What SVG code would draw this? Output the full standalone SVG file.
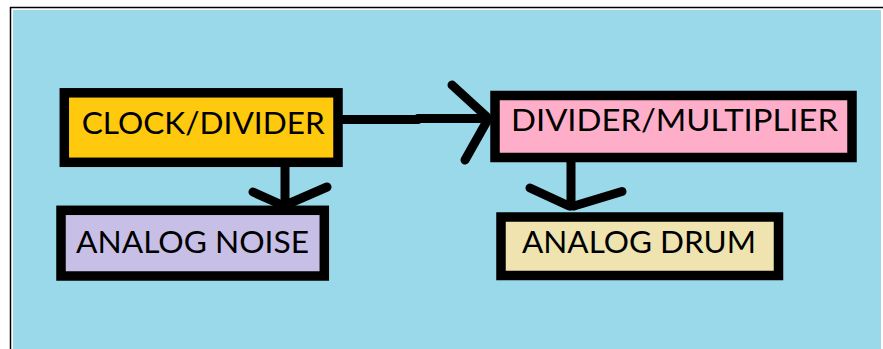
<svg xmlns="http://www.w3.org/2000/svg" width="883" height="349" viewBox="0 0 883 349">
  <style>
    .box { stroke: #000; stroke-width: 9.5; }
    .lbl { font-family: Lato, "Open Sans", "Liberation Sans", sans-serif; font-size: 31px; fill: #000; }
    .con { stroke: #000; stroke-width: 9; fill: none; stroke-linecap: round; stroke-linejoin: round; }
  </style>
  <rect x="0" y="0" width="883" height="349" fill="#ffffff"/>
  <rect x="10.5" y="7.5" width="880" height="350" fill="none" stroke="#000" stroke-width="1.5"/>
  <rect x="13" y="10" width="868" height="339" fill="#99D9EA"/>

  <g id="connectors">
    <path class="con" d="M343 119.5 L418 119.5 L418 118.5 L487 118.5"/>
    <path class="con" d="M452 85 L487 117 M465 160 L487 121"/>
    <path class="con" d="M285 166 L285 205"/>
    <path class="con" d="M253 192 L282 205 M327 187 L288 204"/>
    <path class="con" d="M571 162 L571 206"/>
    <path class="con" d="M530 188 L569 206 M622 191.5 L574 206"/>
  </g>

  <g id="clock-divider">
    <rect class="box" x="64.3" y="92.8" width="273.7" height="69.5" fill="#FFC90E"/>
    <text class="lbl" x="81.7" y="134.3" textLength="243" lengthAdjust="spacingAndGlyphs">CLOCK/DIVIDER</text>
  </g>
  <g id="analog-noise">
    <rect class="box" x="61" y="210.3" width="263.3" height="65.7" fill="#C8BFE7"/>
    <text class="lbl" x="76" y="252.7" textLength="233" lengthAdjust="spacingAndGlyphs">ANALOG NOISE</text>
  </g>
  <g id="divider-multiplier">
    <rect class="box" x="495" y="95.5" width="357" height="62" fill="#FFAEC9"/>
    <text class="lbl" x="511" y="131" textLength="327" lengthAdjust="spacingAndGlyphs">DIVIDER/MULTIPLIER</text>
  </g>
  <g id="analog-drum">
    <rect class="box" x="501" y="217" width="277.5" height="58.5" fill="#EFE4B0"/>
    <text class="lbl" x="522" y="252.7" textLength="234" lengthAdjust="spacingAndGlyphs">ANALOG DRUM</text>
  </g>
</svg>
